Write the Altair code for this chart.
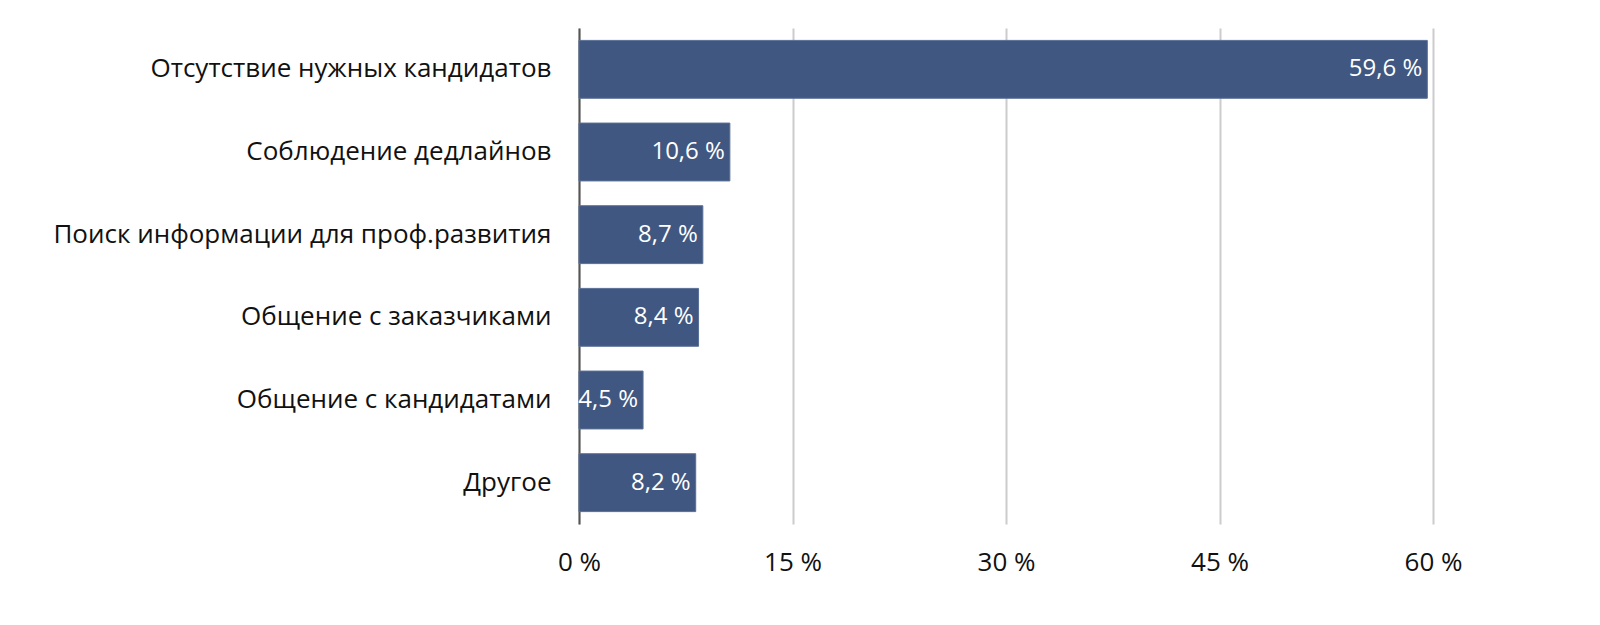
import altair as alt
import pandas as pd

categories = [
    "Отсутствие нужных кандидатов",
    "Соблюдение дедлайнов",
    "Поиск информации для проф.развития",
    "Общение с заказчиками",
    "Общение с кандидатами",
    "Другое",
]
values = [59.6, 10.6, 8.7, 8.4, 4.5, 8.2]
x_ticks = [0, 15, 30, 45, 60]

df = pd.DataFrame({"cat": categories, "val": values})

FONT = "Open Sans"
BAR = "#3f5781"

base = alt.Chart(df).encode(
    y=alt.Y("cat:N", sort=categories, title=None,
            scale=alt.Scale(paddingInner=0.3, paddingOuter=0.15),
            axis=alt.Axis(labelFont=FONT, labelFontSize=26, labelColor="#111",
                          labelPadding=28, ticks=False, domain=True,
                          domainColor="#555", domainWidth=2, grid=False,
                          labelLimit=700)),
)

bars = base.mark_bar(color=BAR, stroke="#5a6f96", strokeWidth=1).encode(
    x=alt.X("val:Q", title=None, scale=alt.Scale(domain=[0, 60], nice=False),
            axis=alt.Axis(values=x_ticks, labelExpr="datum.value + ' %'",
                          labelFont=FONT, labelFontSize=26, labelColor="#111",
                          labelPadding=25, labelFlush=False, ticks=False,
                          domain=False, grid=True, gridColor="#cccccc",
                          gridWidth=2)),
)

labels = base.mark_text(align="right", baseline="middle", dx=-5, color="white",
                        font=FONT, fontSize=24).encode(
    x="val:Q",
    text="lbl:N",
).transform_calculate(
    lbl="replace(format(datum.val, '.1f'), '.', ',') + ' %'"
)

chart = (bars + labels).properties(
    width=854, height=496,
    background="white",
    autosize=alt.AutoSizeParams(type="none"),
    padding={"left": 579, "top": 28, "right": 167, "bottom": 101},
).configure_view(stroke=None)

chart.save("out.html", embed_options={"renderer": "svg", "actions": False})
